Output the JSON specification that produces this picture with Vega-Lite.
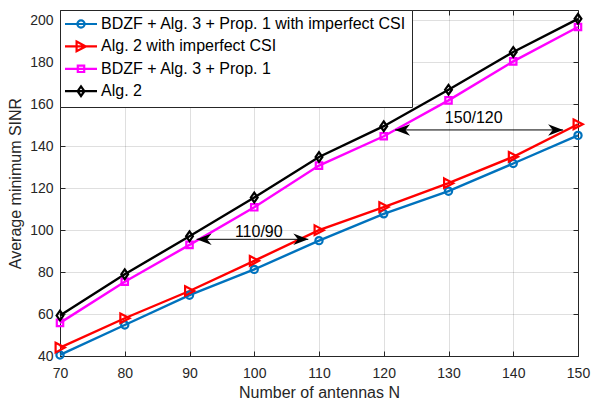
{
  "$schema": "https://vega.github.io/schema/vega-lite/v6.json",
  "width": 518,
  "height": 346,
  "autosize": "none",
  "padding": {"left": 60, "top": 10, "right": 14, "bottom": 45},
  "background": "white",
  "config": {
    "font": "Liberation Sans",
    "view": {"stroke": "#262626", "strokeWidth": 1},
    "axis": {
      "labelFont": "Liberation Sans",
      "labelFontSize": 14,
      "labelColor": "#262626",
      "labelFlush": false,
      "titleFont": "Liberation Sans",
      "titleFontSize": 16,
      "titleFontWeight": "normal",
      "titleColor": "#262626",
      "domainColor": "#262626",
      "tickColor": "#262626",
      "tickSize": -5,
      "gridColor": "#262626",
      "gridOpacity": 0.15
    },
    "legend": {
      "orient": "top-left",
      "offset": 0,
      "padding": 6,
      "fillColor": "white",
      "strokeColor": "#262626",
      "labelFont": "Liberation Sans",
      "labelFontSize": 16,
      "labelColor": "#000000",
      "labelLimit": 600,
      "symbolSize": 64,
      "symbolStrokeWidth": 2.2,
      "rowPadding": 4.4,
      "symbolOffset": 7,
      "labelOffset": 12
    }
  },
  "datasets": {
    "series": [
      {"N": 70, "sinr": 40.5, "series": "BDZF + Alg. 3 + Prop. 1 with imperfect CSI"},
      {"N": 80, "sinr": 54.8, "series": "BDZF + Alg. 3 + Prop. 1 with imperfect CSI"},
      {"N": 90, "sinr": 69, "series": "BDZF + Alg. 3 + Prop. 1 with imperfect CSI"},
      {"N": 100, "sinr": 81.3, "series": "BDZF + Alg. 3 + Prop. 1 with imperfect CSI"},
      {"N": 110, "sinr": 95, "series": "BDZF + Alg. 3 + Prop. 1 with imperfect CSI"},
      {"N": 120, "sinr": 107.8, "series": "BDZF + Alg. 3 + Prop. 1 with imperfect CSI"},
      {"N": 130, "sinr": 118.6, "series": "BDZF + Alg. 3 + Prop. 1 with imperfect CSI"},
      {"N": 140, "sinr": 131.8, "series": "BDZF + Alg. 3 + Prop. 1 with imperfect CSI"},
      {"N": 150, "sinr": 145.2, "series": "BDZF + Alg. 3 + Prop. 1 with imperfect CSI"},
      {"N": 70, "sinr": 44, "series": "Alg. 2 with imperfect CSI"},
      {"N": 80, "sinr": 58, "series": "Alg. 2 with imperfect CSI"},
      {"N": 90, "sinr": 71, "series": "Alg. 2 with imperfect CSI"},
      {"N": 100, "sinr": 85.4, "series": "Alg. 2 with imperfect CSI"},
      {"N": 110, "sinr": 100, "series": "Alg. 2 with imperfect CSI"},
      {"N": 120, "sinr": 111, "series": "Alg. 2 with imperfect CSI"},
      {"N": 130, "sinr": 122.4, "series": "Alg. 2 with imperfect CSI"},
      {"N": 140, "sinr": 135, "series": "Alg. 2 with imperfect CSI"},
      {"N": 150, "sinr": 150.5, "series": "Alg. 2 with imperfect CSI"},
      {"N": 70, "sinr": 55.8, "series": "BDZF + Alg. 3 + Prop. 1"},
      {"N": 80, "sinr": 75.4, "series": "BDZF + Alg. 3 + Prop. 1"},
      {"N": 90, "sinr": 93, "series": "BDZF + Alg. 3 + Prop. 1"},
      {"N": 100, "sinr": 110.9, "series": "BDZF + Alg. 3 + Prop. 1"},
      {"N": 110, "sinr": 130.8, "series": "BDZF + Alg. 3 + Prop. 1"},
      {"N": 120, "sinr": 144.8, "series": "BDZF + Alg. 3 + Prop. 1"},
      {"N": 130, "sinr": 161.9, "series": "BDZF + Alg. 3 + Prop. 1"},
      {"N": 140, "sinr": 180.5, "series": "BDZF + Alg. 3 + Prop. 1"},
      {"N": 150, "sinr": 196.9, "series": "BDZF + Alg. 3 + Prop. 1"},
      {"N": 70, "sinr": 59.3, "series": "Alg. 2"},
      {"N": 80, "sinr": 79, "series": "Alg. 2"},
      {"N": 90, "sinr": 97.1, "series": "Alg. 2"},
      {"N": 100, "sinr": 115.6, "series": "Alg. 2"},
      {"N": 110, "sinr": 134.9, "series": "Alg. 2"},
      {"N": 120, "sinr": 149.6, "series": "Alg. 2"},
      {"N": 130, "sinr": 167, "series": "Alg. 2"},
      {"N": 140, "sinr": 185, "series": "Alg. 2"},
      {"N": 150, "sinr": 200.8, "series": "Alg. 2"}
    ],
    "notes": [
      {"label": "110/90", "xl": 91.1, "xr": 108.35, "y": 95.65, "tx": 100.7, "ty": 99.1},
      {"label": "150/120", "xl": 121.75, "xr": 147.7, "y": 147.8, "tx": 133.9, "ty": 153.7}
    ]
  },
  "layer": [
    {
      "data": {"name": "series"},
      "mark": {"type": "line", "strokeWidth": 2.4},
      "encoding": {
        "x": {
          "field": "N", "type": "quantitative",
          "scale": {"domain": [70, 150], "nice": false, "zero": false},
          "axis": {"orient": "bottom", "values": [70, 80, 90, 100, 110, 120, 130, 140, 150], "title": "Number of antennas N", "grid": true, "labelPadding": 15, "titlePadding": 4}
        },
        "y": {
          "field": "sinr", "type": "quantitative",
          "scale": {"domain": [40, 205], "nice": false, "zero": false},
          "axis": {"orient": "left", "values": [40, 60, 80, 100, 120, 140, 160, 180, 200], "title": "Average minimum SINR", "grid": true, "labelPadding": 12, "titlePadding": 6}
        },
        "color": {
          "field": "series", "type": "nominal",
          "scale": {"domain": ["BDZF + Alg. 3 + Prop. 1 with imperfect CSI", "Alg. 2 with imperfect CSI", "BDZF + Alg. 3 + Prop. 1", "Alg. 2"], "range": ["#0072BD", "#FF0000", "#FF00FF", "#000000"]},
          "legend": {
            "title": null,
            "encode": {
              "symbols": {
                "update": {
                  "shape": {"signal": "datum.value === 'BDZF + Alg. 3 + Prop. 1 with imperfect CSI' ? 'M-4,0H4M0.9,0A0.9,0.9 0 1,1 -0.9,0A0.9,0.9 0 1,1 0.9,0Z' : datum.value === 'Alg. 2 with imperfect CSI' ? 'M-4,0H4M-1.1,-1.2L1.2,0L-1.1,1.2Z' : datum.value === 'BDZF + Alg. 3 + Prop. 1' ? 'M-4,0H4M-0.8,-0.8H0.8V0.8H-0.8Z' : 'M-4,0H4M0,-1.2L0.85,0L0,1.2L-0.85,0Z'"},
                  "fill": {"value": "transparent"},
                  "strokeWidth": {"value": 2.2},
                  "opacity": {"value": 1}
                }
              }
            }
          }
        }
      }
    },
    {
      "data": {"name": "series"},
      "mark": {"type": "point", "filled": false, "strokeWidth": 2.2, "size": 64, "opacity": 1},
      "encoding": {
        "x": {
          "field": "N", "type": "quantitative",
          "axis": {"orient": "top", "values": [70, 80, 90, 100, 110, 120, 130, 140, 150], "title": null, "labels": false, "grid": false, "domain": false}
        },
        "y": {
          "field": "sinr", "type": "quantitative",
          "axis": {"orient": "right", "values": [40, 60, 80, 100, 120, 140, 160, 180, 200], "title": null, "labels": false, "grid": false, "domain": false}
        },
        "color": {"field": "series", "type": "nominal"},
        "shape": {
          "field": "series", "type": "nominal",
          "scale": {"domain": ["Alg. 2", "BDZF + Alg. 3 + Prop. 1", "Alg. 2 with imperfect CSI", "BDZF + Alg. 3 + Prop. 1 with imperfect CSI"], "range": ["M0,-1.2L0.85,0L0,1.2L-0.85,0Z", "M-0.8,-0.8H0.8V0.8H-0.8Z", "M-1.1,-1.2L1.2,0L-1.1,1.2Z", "M0.9,0A0.9,0.9 0 1,1 -0.9,0A0.9,0.9 0 1,1 0.9,0Z"]},
          "legend": null
        }
      }
    },
    {
      "data": {"name": "notes"},
      "mark": {"type": "rule", "color": "#000000", "strokeWidth": 1},
      "encoding": {
        "x": {"field": "xl", "type": "quantitative", "axis": null},
        "x2": {"field": "xr"},
        "y": {"field": "y", "type": "quantitative", "axis": null}
      }
    },
    {
      "data": {"name": "notes"},
      "mark": {"type": "point", "filled": true, "color": "#000000", "size": 64, "opacity": 1, "shape": "M0,0L3.75,-1.45L2.6,0L3.75,1.45Z"},
      "encoding": {
        "x": {"field": "xl", "type": "quantitative", "axis": null},
        "y": {"field": "y", "type": "quantitative", "axis": null}
      }
    },
    {
      "data": {"name": "notes"},
      "mark": {"type": "point", "filled": true, "color": "#000000", "size": 64, "opacity": 1, "shape": "M0,0L-3.75,-1.45L-2.6,0L-3.75,1.45Z"},
      "encoding": {
        "x": {"field": "xr", "type": "quantitative", "axis": null},
        "y": {"field": "y", "type": "quantitative", "axis": null}
      }
    },
    {
      "data": {"name": "notes"},
      "mark": {"type": "text", "font": "Liberation Sans", "fontSize": 16, "color": "#000000", "align": "center", "baseline": "middle"},
      "encoding": {
        "x": {"field": "tx", "type": "quantitative", "axis": null},
        "y": {"field": "ty", "type": "quantitative", "axis": null},
        "text": {"field": "label"}
      }
    }
  ],
  "resolve": {"axis": {"x": "independent", "y": "independent"}}
}
